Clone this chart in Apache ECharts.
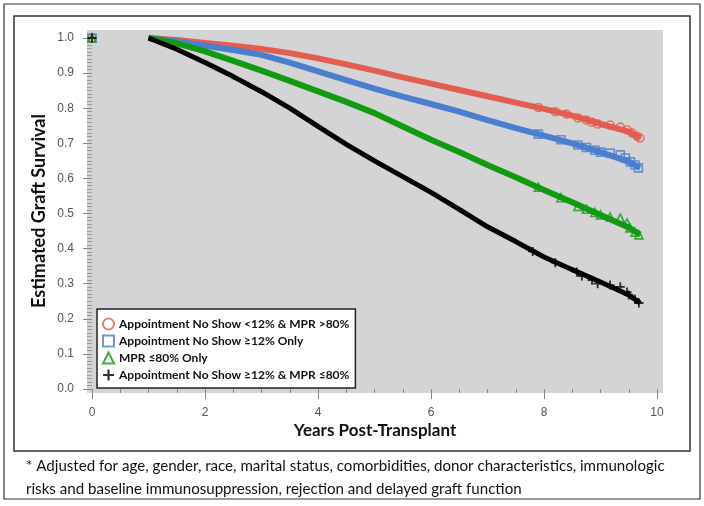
<!DOCTYPE html>
<html>
<head>
<meta charset="utf-8">
<script src="https://cdn.jsdelivr.net/npm/echarts@6/dist/echarts.min.js"></script>
<style>
  html, body { margin: 0; padding: 0; background: #fff; }
  #main { width: 704px; height: 506px; }
</style>
</head>
<body>
<div id="main"></div>
<script>
// survival curves (years post-transplant)
const YEARS = [1, 1.5, 2, 2.5, 3, 3.5, 4, 4.5, 5, 5.5, 6, 6.5, 7, 7.5, 8, 8.5, 9, 9.5, 9.7];
const RED_SURV   = [1.000, 0.994, 0.986, 0.978, 0.969, 0.957, 0.942, 0.925, 0.907, 0.888, 0.870, 0.852, 0.834, 0.816, 0.798, 0.779, 0.755, 0.733, 0.715];
const BLUE_SURV  = [1.000, 0.990, 0.978, 0.966, 0.952, 0.930, 0.905, 0.880, 0.856, 0.833, 0.812, 0.790, 0.766, 0.743, 0.722, 0.700, 0.675, 0.648, 0.630];
const GREEN_SURV = [1.000, 0.985, 0.962, 0.935, 0.907, 0.878, 0.848, 0.818, 0.786, 0.748, 0.710, 0.675, 0.638, 0.603, 0.567, 0.532, 0.496, 0.460, 0.440];
const BLACK_SURV = [1.000, 0.968, 0.930, 0.890, 0.847, 0.800, 0.748, 0.697, 0.650, 0.605, 0.560, 0.512, 0.462, 0.420, 0.376, 0.340, 0.305, 0.268, 0.245];

// censored marks in the sparse tail (plus the point at year 0)
const RED_MARKS   = [[0, 1], [7.9, 0.802], [8.2, 0.790], [8.4, 0.783], [8.6, 0.772], [8.75, 0.766], [8.85, 0.760], [8.95, 0.755], [9.17, 0.752], [9.35, 0.746], [9.47, 0.738], [9.56, 0.729], [9.65, 0.720], [9.7, 0.715]];
const BLUE_MARKS  = [[0, 1], [7.9, 0.726], [8.3, 0.710], [8.6, 0.695], [8.75, 0.688], [8.9, 0.680], [9.0, 0.675], [9.17, 0.672], [9.35, 0.667], [9.44, 0.658], [9.53, 0.647], [9.61, 0.638], [9.67, 0.630]];
const GREEN_MARKS = [[0, 1], [7.9, 0.575], [8.3, 0.545], [8.6, 0.520], [8.75, 0.512], [8.9, 0.503], [9.0, 0.496], [9.17, 0.490], [9.35, 0.487], [9.47, 0.473], [9.52, 0.459], [9.61, 0.447], [9.68, 0.439]];
const BLACK_MARKS = [[0, 1], [7.8, 0.392], [8.2, 0.360], [8.58, 0.333], [8.67, 0.322], [8.85, 0.310], [8.95, 0.300], [9.17, 0.296], [9.35, 0.291], [9.47, 0.276], [9.5, 0.268], [9.61, 0.256], [9.68, 0.245]];

const GROUPS = [
  'Appointment No Show <12% & MPR >80%',
  'Appointment No Show \u226512% Only',
  'MPR \u226480% Only',
  'Appointment No Show \u226512% & MPR \u226480%'
];
const FOOTNOTE = [
  '* Adjusted for age, gender, race, marital status, comorbidities, donor characteristics, immunologic',
  'risks and baseline immunosuppression, rejection and delayed graft function'
];

const PLUS = 'path://M4,0H6V4H10V6H6V10H4V6H0V4H4Z';
const COLORS = ['#e35d50', '#4a7fcf', '#129a12', '#000000'];
const SYMBOLS = ['circle', 'rect', 'triangle', PLUS];
const curves = [RED_SURV, BLUE_SURV, GREEN_SURV, BLACK_SURV];
const marks = [RED_MARKS, BLUE_MARKS, GREEN_MARKS, BLACK_MARKS];

var chart = echarts.init(document.getElementById('main'));

var series = [];
curves.forEach(function (vals, i) {
  series.push({
    name: 'line' + i,
    type: 'line',
    data: YEARS.map(function (x, k) { return [x, vals[k]]; }),
    showSymbol: false,
    silent: true,
    lineStyle: { width: i === 3 ? 5 : 6, color: COLORS[i] },
    z: 2 + i
  });
});
marks.forEach(function (pts, i) {
  var hollow = i < 3;
  series.push({
    name: GROUPS[i],
    type: 'scatter',
    data: pts,
    symbol: SYMBOLS[i],
    symbolSize: i === 3 ? 9 : 8,
    itemStyle: hollow
      ? { color: 'rgba(0,0,0,0)', borderColor: COLORS[i], borderWidth: 1.6 }
      : { color: '#000', borderWidth: 0 },
    z: 10 + i
  });
});

var option = {
  animation: false,
  grid: { left: 92, right: 47, top: 38, bottom: 117 },
  xAxis: {
    type: 'value', min: 0, max: 10, interval: 2, offset: 4,
    axisLine: { show: true, lineStyle: { color: '#d4d4d4', width: 1 } },
    axisTick: { show: true, length: 10, lineStyle: { color: '#888' } },
    minorTick: { show: true, splitNumber: 4, length: 4, lineStyle: { color: '#888' } },
    splitLine: { show: false },
    axisLabel: { color: '#555', fontSize: 12, fontFamily: 'Liberation Sans', margin: 14 }
  },
  yAxis: {
    type: 'value', min: 0, max: 1, interval: 0.1, offset: 5,
    axisLine: { show: true, lineStyle: { color: '#d4d4d4', width: 1 } },
    axisTick: { show: true, length: 9, lineStyle: { color: '#888' } },
    minorTick: { show: true, splitNumber: 10, length: 5, lineStyle: { color: '#999' } },
    splitLine: { show: false },
    axisLabel: {
      color: '#555', fontSize: 12, fontFamily: 'Liberation Sans', margin: 13,
      formatter: function (v) { return v.toFixed(1); }
    }
  },
  legend: {
    orient: 'vertical', left: 97, top: 309,
    padding: [8, 6, 6, 5], itemGap: 3, itemWidth: 11, itemHeight: 11,
    backgroundColor: '#fff', borderColor: '#222', borderWidth: 1.5,
    textStyle: { fontFamily: 'Lato', fontWeight: 'bold', fontSize: 12, color: '#111', lineHeight: 14 },
    data: GROUPS.map(function (n, i) { return { name: n, icon: SYMBOLS[i] }; })
  },
  graphic: [
    { type: 'rect', z: -20, silent: true, shape: { x: 4, y: 4, width: 696, height: 495 },
      style: { fill: '#fff', stroke: '#333', lineWidth: 1.2 } },
    { type: 'rect', z: -19, silent: true, shape: { x: 14, y: 16, width: 676, height: 435 },
      style: { fill: '#fff', stroke: '#333', lineWidth: 1.5 } },
    { type: 'rect', z: -18, silent: true, shape: { x: 87, y: 30, width: 576, height: 363 },
      style: { fill: '#d4d4d4' } },
    { type: 'text', x: 39, y: 211, rotation: Math.PI / 2, silent: true,
      style: { text: 'Estimated Graft Survival', font: 'bold 18px Lato', fill: '#111',
        textAlign: 'center', textVerticalAlign: 'middle' } },
    { type: 'text', x: 375, y: 431, silent: true,
      style: { text: 'Years Post-Transplant', font: 'bold 17px Lato', fill: '#111',
        textAlign: 'center', textVerticalAlign: 'middle' } },
    { type: 'text', x: 26, y: 466, silent: true,
      style: { text: FOOTNOTE[0], font: '15.1px Lato', fill: '#111', textVerticalAlign: 'middle' } },
    { type: 'text', x: 26, y: 489, silent: true,
      style: { text: FOOTNOTE[1], font: '15.1px Lato', fill: '#111', textVerticalAlign: 'middle' } }
  ],
  series: series
};

option && chart.setOption(option);
</script>
</body>
</html>
